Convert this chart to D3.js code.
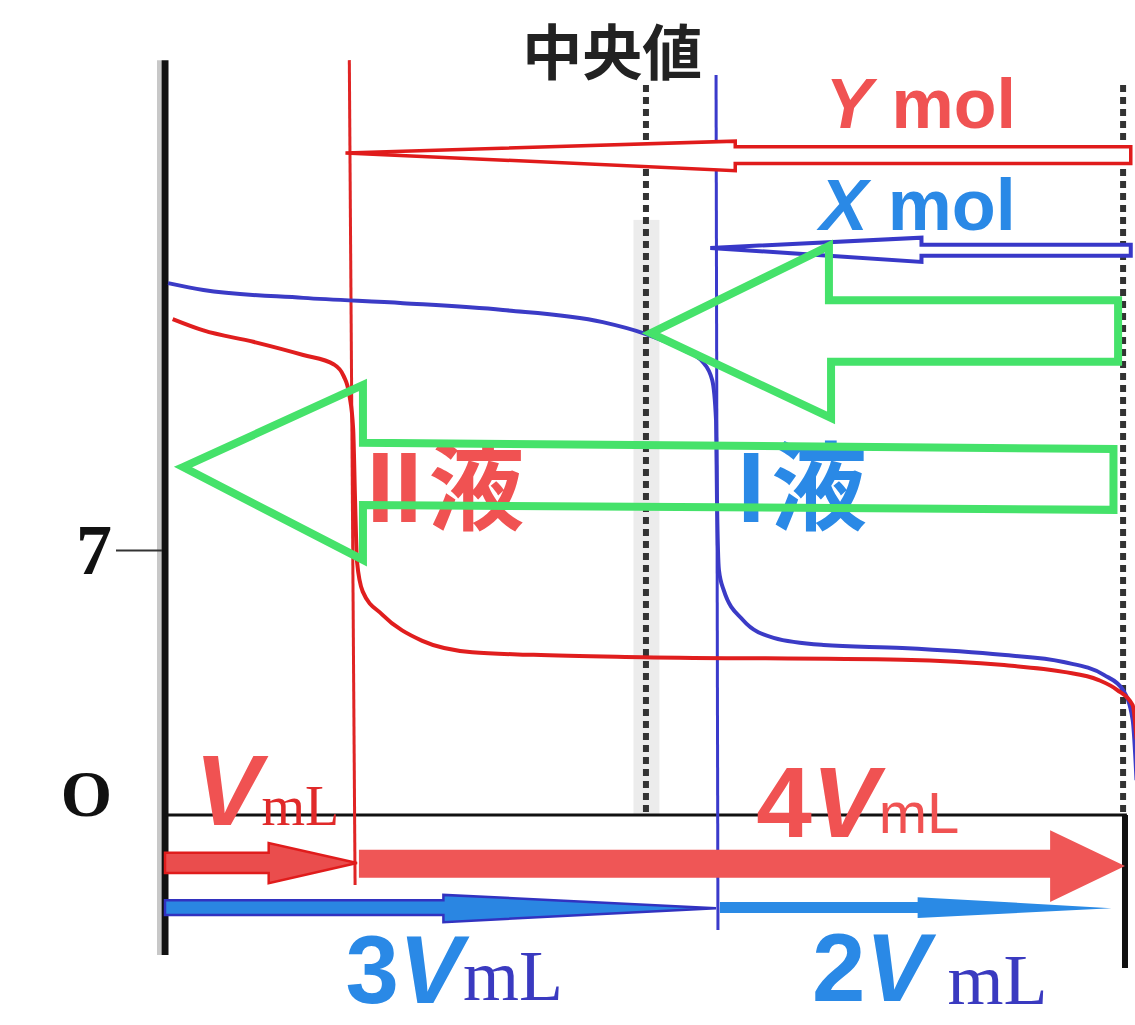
<!DOCTYPE html>
<html>
<head>
<meta charset="utf-8">
<script src="https://cdn.jsdelivr.net/npm/d3@7"></script>
<style>
body { margin: 0; background: #fff; }
</style>
</head>
<body>
<div id="chart"></div>
<script>
// x in units of V (mL added), y = pH
var redCurve = [[0.04,13.1],[0.2,12.8],[0.46,12.5],[0.72,12.15],[0.88,11.9],[0.93,11.6],[0.96,11.1],
    [0.98,10.2],[0.99,8.3],[1.0,6.7],[1.03,5.9],[1.13,5.3],[1.34,4.6],[1.6,4.3],[1.92,4.23],
    [2.49,4.17],[3.84,4.1],[4.37,3.96],[4.68,3.78],[4.86,3.57],[4.96,3.3],[5.04,2.9],[5.06,2.0]];
var blueCurve = [[0.016,14.05],[0.2,13.87],[0.72,13.66],[1.24,13.52],[1.76,13.34],[2.28,13.02],
    [2.49,12.73],[2.7,12.28],[2.8,11.97],[2.85,11.49],[2.87,10.43],[2.875,8.32],[2.885,6.47],
    [2.91,5.94],[3.01,5.15],[3.17,4.68],[3.43,4.49],[3.84,4.41],[4.36,4.23],[4.68,4.04],
    [4.89,3.7],[4.99,3.3],[5.04,2.51],[5.06,0.92]];

var yTicks = [0, 7];
var yTickLabels = ["O", "7"];

var redEquiv = 0.97;    // V
var blueEquiv = 2.87;   // 3V
var dashedX = [2.505, 4.99];

// hollow arrows (Y mol / X mol)
var yMolArrow = [[0.94,17.49],[2.97,17.8],[2.97,17.65],[5.03,17.65],[5.03,17.21],[2.97,17.21],[2.97,17.02]];
var xMolArrow = [[2.84,14.98],[3.94,15.25],[3.94,15.06],[5.03,15.06],[5.03,14.77],[3.94,14.77],[3.94,14.61]];

// green arrows
var greenArrowTop = [[2.531,12.73],[3.458,15.03],[3.458,13.6],[4.964,13.6],[4.964,11.97],[3.469,11.97],[3.469,10.49]];
var greenArrowLong = [[0.094,9.19],[1.031,11.36],[1.031,9.83],[4.94,9.67],[4.94,8.06],[1.031,8.19],[1.031,6.74]];

// volume arrows under the axis
var arrowV  = [[0.0,-1.0],[0.54,-1.0],[0.54,-0.74],[1.0,-1.27],[0.54,-1.8],[0.54,-1.53],[0.0,-1.53]];
var arrow4V = [[1.01,-0.92],[4.61,-0.92],[4.61,-0.4],[5.0,-1.35],[4.61,-2.3],[4.61,-1.66],[1.01,-1.66]];
var arrow3V = [[0.0,-2.25],[1.45,-2.25],[1.45,-2.11],[2.87,-2.46],[1.45,-2.83],[1.45,-2.64],[0.0,-2.64]];
var arrow2V = [[2.89,-2.3],[3.92,-2.3],[3.92,-2.17],[4.93,-2.46],[3.92,-2.72],[3.92,-2.59],[2.89,-2.59]];

var W = 1135, H = 1025;
var RED_TXT = "#f05252", BLUE_TXT = "#2a89e6", GREEN = "#45e26a";
var SANS = "'Liberation Sans', Arial, sans-serif";
var SERIF = "'Liberation Serif', 'Times New Roman', serif";
var CJK = "'Noto Sans CJK JP', 'Noto Sans CJK SC', sans-serif";

var svg = d3.select("#chart").append("svg")
    .attr("width", W)
    .attr("height", H);

var x = d3.scaleLinear().domain([0, 5]).range([165, 1125]);
var y = d3.scaleLinear().domain([0, 14]).range([815, 285]);

var poly = d3.line().x(function(d) { return x(d[0]); }).y(function(d) { return y(d[1]); });
function closed(pts) { return poly(pts) + "Z"; }

// gray band behind the left dashed line
svg.append("rect")
    .attr("x", x(2.44)).attr("y", y(15.72))
    .attr("width", x(2.575) - x(2.44)).attr("height", y(0) - y(15.72))
    .attr("fill", "#ececec");

// dashed half-way lines
svg.selectAll(".dash")
    .data(dashedX)
    .enter().append("line")
    .attr("x1", function(d) { return x(d); }).attr("x2", function(d) { return x(d); })
    .attr("y1", y(19.28)).attr("y2", y(0))
    .attr("stroke", "#333")
    .attr("stroke-width", 6)
    .attr("stroke-dasharray", "7,5");

// axes
svg.append("line")
    .attr("x1", x(0) - 6).attr("x2", x(0) - 6)
    .attr("y1", y(19.94)).attr("y2", y(-3.7))
    .attr("stroke", "#c8c8c8").attr("stroke-width", 4);
svg.append("line")
    .attr("x1", x(0)).attr("x2", x(0))
    .attr("y1", y(19.94)).attr("y2", y(-3.7))
    .attr("stroke", "#111").attr("stroke-width", 7);
svg.append("line")
    .attr("x1", x(0)).attr("x2", x(5.01))
    .attr("y1", y(0)).attr("y2", y(0))
    .attr("stroke", "#111").attr("stroke-width", 3);
svg.append("line")
    .attr("x1", x(5)).attr("x2", x(5))
    .attr("y1", y(0)).attr("y2", y(-4.04))
    .attr("stroke", "#111").attr("stroke-width", 6);

var yAxis = svg.append("g")
    .attr("transform", "translate(" + (x(0) - 3) + ",0)")
    .call(d3.axisLeft(y).tickValues(yTicks).tickSize(46).tickPadding(4)
        .tickFormat(function(d, i) { return yTickLabels[i]; }));
yAxis.select(".domain").remove();
yAxis.selectAll(".tick line").attr("stroke", "#333").attr("stroke-width", 2)
    .attr("opacity", function(d) { return d === 0 ? 0 : 1; });
yAxis.selectAll(".tick text")
    .attr("fill", "#111")
    .style("font-family", SERIF)
    .style("font-weight", "bold")
    .style("font-size", function(d) { return d === 0 ? "66px" : "72px"; })
    .attr("dy", function(d) { return d === 0 ? "0.0em" : "0.32em"; });

// equivalence lines
svg.append("line")
    .attr("x1", x(redEquiv - 0.01)).attr("x2", x(redEquiv + 0.02))
    .attr("y1", y(19.94)).attr("y2", y(-1.85))
    .attr("stroke", "#e02424").attr("stroke-width", 3);
svg.append("line")
    .attr("x1", x(blueEquiv)).attr("x2", x(blueEquiv + 0.01))
    .attr("y1", y(19.55)).attr("y2", y(-3.04))
    .attr("stroke", "#3a3acb").attr("stroke-width", 3);

// titration curves
var curve = d3.line()
    .x(function(d) { return x(d[0]); })
    .y(function(d) { return y(d[1]); })
    .curve(d3.curveMonotoneX);
svg.append("path").datum(blueCurve)
    .attr("d", curve).attr("fill", "none")
    .attr("stroke", "#3b3bc6").attr("stroke-width", 4);
svg.append("path").datum(redCurve)
    .attr("d", curve).attr("fill", "none")
    .attr("stroke", "#e01e1e").attr("stroke-width", 4);

// hollow mol arrows
svg.append("path").attr("d", closed(yMolArrow))
    .attr("fill", "#fff").attr("stroke", "#e01b1b").attr("stroke-width", 3.5);
svg.append("path").attr("d", closed(xMolArrow))
    .attr("fill", "#fff").attr("stroke", "#3838c8").attr("stroke-width", 4);

// texts
function label(xv, yv, parts) {
    var t = svg.append("text").attr("x", x(xv)).attr("y", y(yv));
    parts.forEach(function(p) {
        t.append("tspan")
            .attr("dy", p.dy || 0)
            .attr("dx", p.dx || 0)
            .style("font-family", p.family || SANS)
            .style("font-size", p.size + "px")
            .style("font-weight", p.weight || "bold")
            .style("font-style", p.italic ? "italic" : "normal")
            .attr("fill", p.fill)
            .text(p.t);
    });
    return t;
}

svg.append("text")
    .attr("x", x(2.33)).attr("y", y(19.55))
    .attr("text-anchor", "middle")
    .style("font-family", CJK).style("font-weight", "bold").style("font-size", "60px")
    .attr("fill", "#222")
    .text("中央値");

label(3.44, 18.15, [{t: "Y", size: 70, italic: true, fill: RED_TXT}, {t: " mol", size: 70, fill: RED_TXT}]);
label(3.41, 15.45, [{t: "X", size: 72, italic: true, fill: BLUE_TXT}, {t: " mol", size: 72, fill: BLUE_TXT}]);

label(1.05, 7.75, [{t: "II", size: 100, fill: RED_TXT}, {t: "液", size: 96, family: CJK, fill: RED_TXT, dx: 6}]);
label(2.98, 7.75, [{t: "I", size: 100, fill: BLUE_TXT}, {t: "液", size: 96, family: CJK, fill: BLUE_TXT, dx: 6}]);

label(0.155, -0.27, [{t: "V", size: 100, italic: true, fill: RED_TXT},
    {t: "mL", size: 56, family: SERIF, weight: "normal", fill: "#e02a2a"}]);
label(3.08, -0.58, [{t: "4", size: 100, fill: RED_TXT}, {t: "V", size: 100, italic: true, fill: RED_TXT},
    {t: "mL", size: 58, weight: "normal", fill: RED_TXT, dy: -4}]);
label(0.94, -4.97, [{t: "3", size: 96, fill: BLUE_TXT}, {t: "V", size: 96, italic: true, fill: BLUE_TXT},
    {t: "mL", size: 72, family: SERIF, weight: "normal", fill: "#3a3ac0", dy: -3}]);
label(3.37, -4.92, [{t: "2", size: 96, fill: BLUE_TXT}, {t: "V", size: 96, italic: true, fill: BLUE_TXT},
    {t: " mL", size: 72, family: SERIF, weight: "normal", fill: "#3a3ac0", dy: 3}]);

// green arrows
[greenArrowTop, greenArrowLong].forEach(function(a) {
    svg.append("path").attr("d", closed(a))
        .attr("fill", "none").attr("stroke", GREEN)
        .attr("stroke-width", 8).attr("stroke-linejoin", "miter");
});

// volume arrows
svg.append("path").attr("d", closed(arrow4V)).attr("fill", "#ef5656");
svg.append("path").attr("d", closed(arrowV))
    .attr("fill", "#ea4d4d").attr("stroke", "#e01c1c").attr("stroke-width", 2.5);
svg.append("path").attr("d", closed(arrow3V))
    .attr("fill", "#2a86e2").attr("stroke", "#3232c0").attr("stroke-width", 2.5);
svg.append("path").attr("d", closed(arrow2V)).attr("fill", "#2a8ae5");
</script>
</body>
</html>
